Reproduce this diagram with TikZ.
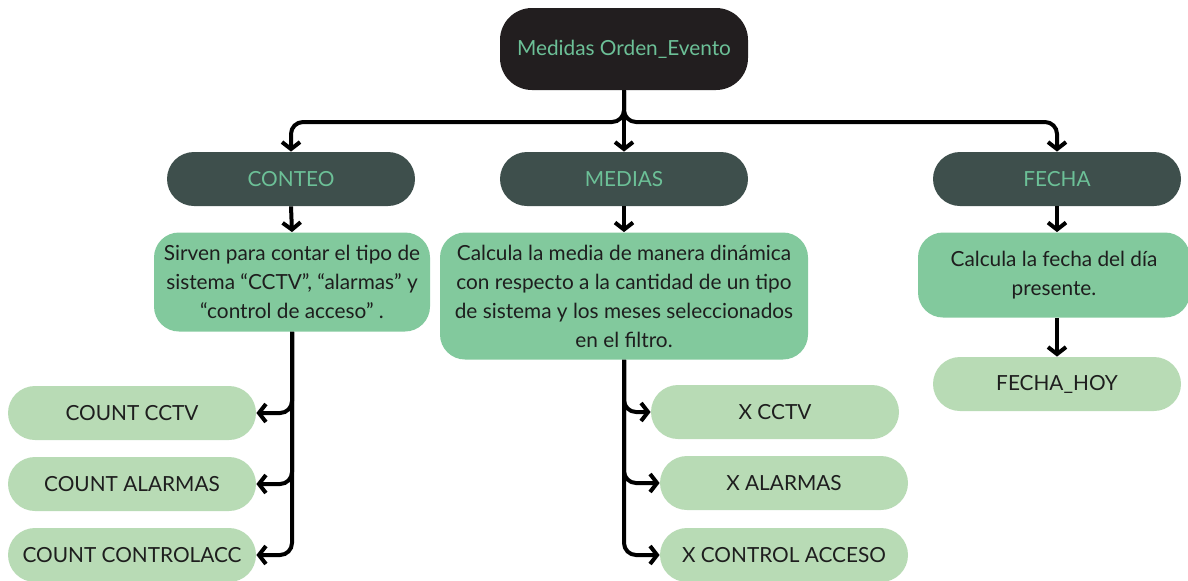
\documentclass[tikz,border=0pt]{standalone}
\usepackage{fontspec}
\setmainfont{Lato}
\usetikzlibrary{arrows.meta, positioning}

\definecolor{negro}{HTML}{221E1F}
\definecolor{pizarra}{HTML}{3E4F4C}
\definecolor{verdetxt}{HTML}{6CC097}
\definecolor{verdemed}{HTML}{82C99D}
\definecolor{verdeclaro}{HTML}{B8DBB5}
\definecolor{tinta}{HTML}{1E1E1E}

\tikzset{
  caja/.style={rectangle, inner sep=0pt, align=center, font=\fontsize{10.4}{14.5}\selectfont},
  raiz/.style={caja, fill=negro, text=verdetxt, minimum width=124pt, minimum height=41pt, rounded corners=16pt},
  grupo/.style={caja, fill=pizarra, text=verdetxt, minimum width=124pt, minimum height=27pt, rounded corners=13.5pt},
  desc/.style={caja, fill=verdemed, text=tinta, rounded corners=12.5pt},
  hoja/.style={caja, fill=verdeclaro, text=tinta, minimum width=124pt, minimum height=27pt, rounded corners=13.5pt},
  flecha/.style={line width=2pt, -{Straight Barb[length=3.5pt,width=9pt]}, rounded corners=6pt}
}

\begin{document}
\begin{tikzpicture}[x=0.5pt, y=-0.5pt]

  \useasboundingbox (0,0) rectangle (1188,580);

  % Nodo principal
  \node[raiz] (medidas) at (624,49) {Medidas Orden\_Evento};

  % Grupos
  \node[grupo] (conteo) at (291,179) {CONTEO};
  \node[grupo] (medias) at (624,179) {MEDIAS};
  \node[grupo] (fecha)  at (1057,179) {FECHA};

  % Descripciones
  \node[desc, minimum width=138pt, minimum height=49.5pt] (dconteo) at (292,282)
    {Sirven para contar el tipo de\\ sistema “CCTV”, “alarmas” y\\ “control de acceso” .};
  \node[desc, minimum width=184pt, minimum height=63.5pt] (dmedias) at (624,296)
    {Calcula la media de manera dinámica\\ con respecto a la cantidad de un tipo\\ de sistema y los meses seleccionados\\ en el filtro.};
  \node[desc, minimum width=136pt, minimum height=42.5pt] (dfecha) at (1054,275)
    {Calcula la fecha del día\\ presente.};

  % Medidas finales
  \node[hoja] (ccctv)  at (132,413) {COUNT CCTV};
  \node[hoja] (calarm) at (132,484) {COUNT ALARMAS};
  \node[hoja] (cctrl)  at (132,555) {COUNT CONTROLACC};

  \node[hoja] (xcctv)  at (775,412) {X CCTV};
  \node[hoja] (xalarm) at (784,483) {X ALARMAS};
  \node[hoja] (xctrl)  at (784,555) {X CONTROL ACCESO};

  \node[hoja] (hoy) at (1057,384) {FECHA\_HOY};

  % Conectores
  \coordinate (union) at (624,122);
  \draw[flecha] (medidas.south) |- (conteo.north |- union) -- (conteo.north);
  \draw[flecha] (medidas.south) |- (fecha.north |- union) -- (fecha.north);
  \draw[flecha] (medidas.south) -- (medias.north);

  \draw[flecha] (conteo.south) -- (dconteo.north);
  \draw[flecha] (medias.south) -- (dmedias.north);
  \draw[flecha] (fecha.south) -- (fecha.south |- dfecha.north);

  \draw[flecha] (dconteo.south) |- (ccctv.east);
  \draw[flecha] (dconteo.south) |- (calarm.east);
  \draw[flecha] (dconteo.south) |- (cctrl.east);

  \draw[flecha] (dmedias.south) |- (xcctv.west);
  \draw[flecha] (dmedias.south) |- (xalarm.west);
  \draw[flecha] (dmedias.south) |- (xctrl.west);

  \draw[flecha] (hoy.north |- dfecha.south) -- (hoy.north);

\end{tikzpicture}
\end{document}
